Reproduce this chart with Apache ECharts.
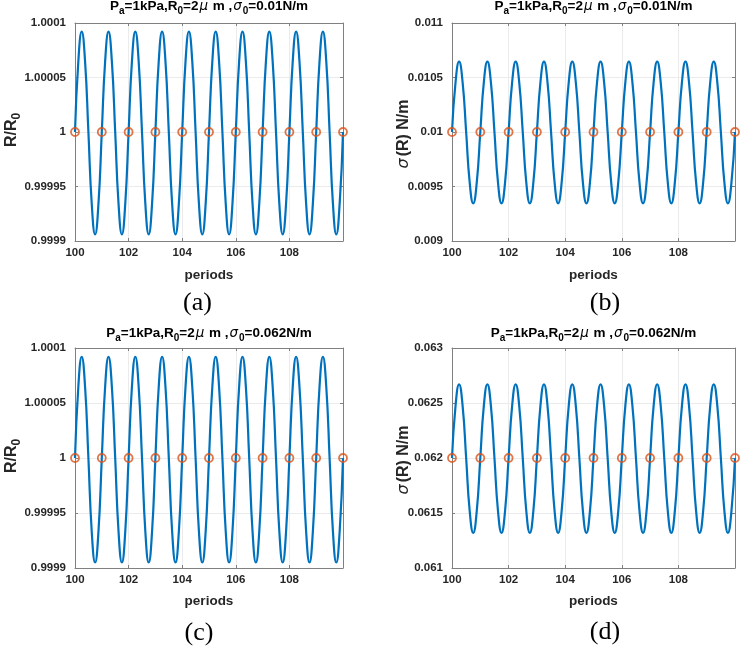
<!DOCTYPE html>
<html><head><meta charset="utf-8">
<script src="https://cdn.jsdelivr.net/npm/echarts@6/dist/echarts.min.js"></script>
<style>html,body{margin:0;padding:0;background:#fff}#c{width:740px;height:646px}</style>
</head><body><div id="c"></div>
<script>
// ---- data ----
const periods = [
100,100.125,100.25,100.375,100.5,100.625,100.75,100.875,
101,101.125,101.25,101.375,101.5,101.625,101.75,101.875,
102,102.125,102.25,102.375,102.5,102.625,102.75,102.875,
103,103.125,103.25,103.375,103.5,103.625,103.75,103.875,
104,104.125,104.25,104.375,104.5,104.625,104.75,104.875,
105,105.125,105.25,105.375,105.5,105.625,105.75,105.875,
106,106.125,106.25,106.375,106.5,106.625,106.75,106.875,
107,107.125,107.25,107.375,107.5,107.625,107.75,107.875,
108,108.125,108.25,108.375,108.5,108.625,108.75,108.875,
109,109.125,109.25,109.375,109.5,109.625,109.75,109.875,
110];
const radiusA = [
1,1.000065,1.000092,1.000065,1,0.999934,0.999906,0.999934,
1,1.000065,1.000092,1.000065,1,0.999934,0.999906,0.999934,
1,1.000065,1.000092,1.000065,1,0.999934,0.999906,0.999934,
1,1.000065,1.000092,1.000065,1,0.999934,0.999906,0.999934,
1,1.000065,1.000092,1.000065,1,0.999934,0.999906,0.999934,
1,1.000065,1.000092,1.000065,1,0.999934,0.999906,0.999934,
1,1.000065,1.000092,1.000065,1,0.999934,0.999906,0.999934,
1,1.000065,1.000092,1.000065,1,0.999934,0.999906,0.999934,
1,1.000065,1.000092,1.000065,1,0.999934,0.999906,0.999934,
1,1.000065,1.000092,1.000065,1,0.999934,0.999906,0.999934,
1];
const sigmaB = [
0.01,0.010456,0.010645,0.010456,0.01,0.009537,0.009345,0.009537,
0.01,0.010456,0.010645,0.010456,0.01,0.009537,0.009345,0.009537,
0.01,0.010456,0.010645,0.010456,0.01,0.009537,0.009345,0.009537,
0.01,0.010456,0.010645,0.010456,0.01,0.009537,0.009345,0.009537,
0.01,0.010456,0.010645,0.010456,0.01,0.009537,0.009345,0.009537,
0.01,0.010456,0.010645,0.010456,0.01,0.009537,0.009345,0.009537,
0.01,0.010456,0.010645,0.010456,0.01,0.009537,0.009345,0.009537,
0.01,0.010456,0.010645,0.010456,0.01,0.009537,0.009345,0.009537,
0.01,0.010456,0.010645,0.010456,0.01,0.009537,0.009345,0.009537,
0.01,0.010456,0.010645,0.010456,0.01,0.009537,0.009345,0.009537,
0.01];
const radiusC = [
1,1.000065,1.000092,1.000065,1,0.999933,0.999905,0.999933,
1,1.000065,1.000092,1.000065,1,0.999933,0.999905,0.999933,
1,1.000065,1.000092,1.000065,1,0.999933,0.999905,0.999933,
1,1.000065,1.000092,1.000065,1,0.999933,0.999905,0.999933,
1,1.000065,1.000092,1.000065,1,0.999933,0.999905,0.999933,
1,1.000065,1.000092,1.000065,1,0.999933,0.999905,0.999933,
1,1.000065,1.000092,1.000065,1,0.999933,0.999905,0.999933,
1,1.000065,1.000092,1.000065,1,0.999933,0.999905,0.999933,
1,1.000065,1.000092,1.000065,1,0.999933,0.999905,0.999933,
1,1.000065,1.000092,1.000065,1,0.999933,0.999905,0.999933,
1];
const sigmaD = [
0.062,0.062474,0.06267,0.062474,0.062,0.061519,0.06132,0.061519,
0.062,0.062474,0.06267,0.062474,0.062,0.061519,0.06132,0.061519,
0.062,0.062474,0.06267,0.062474,0.062,0.061519,0.06132,0.061519,
0.062,0.062474,0.06267,0.062474,0.062,0.061519,0.06132,0.061519,
0.062,0.062474,0.06267,0.062474,0.062,0.061519,0.06132,0.061519,
0.062,0.062474,0.06267,0.062474,0.062,0.061519,0.06132,0.061519,
0.062,0.062474,0.06267,0.062474,0.062,0.061519,0.06132,0.061519,
0.062,0.062474,0.06267,0.062474,0.062,0.061519,0.06132,0.061519,
0.062,0.062474,0.06267,0.062474,0.062,0.061519,0.06132,0.061519,
0.062,0.062474,0.06267,0.062474,0.062,0.061519,0.06132,0.061519,
0.062];
const markerPeriods = [100,101,102,103,104,105,106,107,108,109,110];
const markerRadius = [1,1,1,1,1,1,1,1,1,1,1];
const markerSigmaB = [0.01,0.01,0.01,0.01,0.01,0.01,0.01,0.01,0.01,0.01,0.01];
const markerSigmaD = [0.062,0.062,0.062,0.062,0.062,0.062,0.062,0.062,0.062,0.062,0.062];
const xTickLabels = ['100','102','104','106','108',''];
const yTicksR = ['0.9999','0.99995','1','1.00005','1.0001'];
const yTicksB = ['0.009','0.0095','0.01','0.0105','0.011'];
const yTicksD = ['0.061','0.0615','0.062','0.0625','0.063'];
const sigma0Labels = ['0.01','0.01','0.062','0.062'];
const captions = ['(a)','(b)','(c)','(d)'];

// ---- layout / style ----
const FONT = '"Liberation Sans", Arial, sans-serif';
const AX = '#808080';
const TXT = '#262626';
const grids = [
  {left:75, top:23, width:268, height:218},
  {left:452, top:23, width:283, height:218},
  {left:75, top:348, width:268, height:220},
  {left:452, top:348, width:283, height:220}
];
const panels = [
  {vals: radiusA, mk: markerRadius, ymin:0.9999, ymax:1.0001, yint:0.00005, ylab: yTicksR, ytype:'R'},
  {vals: sigmaB, mk: markerSigmaB, ymin:0.009, ymax:0.011, yint:0.0005, ylab: yTicksB, ytype:'S'},
  {vals: radiusC, mk: markerRadius, ymin:0.9999, ymax:1.0001, yint:0.00005, ylab: yTicksR, ytype:'R'},
  {vals: sigmaD, mk: markerSigmaD, ymin:0.061, ymax:0.063, yint:0.0005, ylab: yTicksD, ytype:'S'}
];

const xAxes = [], yAxes = [], series = [], graphics = [];
const tickLabelStyle = {fontSize:11.5, fontWeight:'bold', fontFamily:FONT, color:TXT};
panels.forEach((p, i) => {
  const common = {gridIndex:i, type:'value'};
  xAxes.push(Object.assign({}, common, {
    min:100, max:110, interval:2, position:'bottom',
    axisLine:{show:true, onZero:false, lineStyle:{color:AX, width:1}},
    axisTick:{show:true, inside:true, length:3, lineStyle:{color:AX}},
    axisLabel:Object.assign({margin:6, formatter:v => xTickLabels[Math.round((v-100)/2)]}, tickLabelStyle),
    splitLine:{show:true, lineStyle:{color:'#ebebeb', width:1}}
  }));
  xAxes.push(Object.assign({}, common, {
    min:100, max:110, interval:2, position:'top',
    axisLine:{show:true, onZero:false, lineStyle:{color:AX, width:1}},
    axisTick:{show:true, inside:true, length:3, lineStyle:{color:AX}},
    axisLabel:{show:false}, splitLine:{show:false}
  }));
  yAxes.push(Object.assign({}, common, {
    min:p.ymin, max:p.ymax, interval:p.yint, position:'left',
    axisLine:{show:true, onZero:false, lineStyle:{color:AX, width:1}},
    axisTick:{show:true, inside:true, length:3, lineStyle:{color:AX}},
    axisLabel:Object.assign({margin:9, formatter:v => p.ylab[Math.round((v-p.ymin)/p.yint)]}, tickLabelStyle),
    splitLine:{show:true, lineStyle:{color:'#ebebeb', width:1}}
  }));
  yAxes.push(Object.assign({}, common, {
    min:p.ymin, max:p.ymax, interval:p.yint, position:'right',
    axisLine:{show:true, onZero:false, lineStyle:{color:AX, width:1}},
    axisTick:{show:true, inside:true, length:3, lineStyle:{color:AX}},
    axisLabel:{show:false}, splitLine:{show:false}
  }));
  series.push({
    type:'line', xAxisIndex:2*i, yAxisIndex:2*i,
    data: periods.map((x, k) => [x, p.vals[k]]),
    showSymbol:false, smooth:true, lineStyle:{color:'#0072BD', width:2.2}, z:2
  });
  series.push({
    type:'scatter', xAxisIndex:2*i, yAxisIndex:2*i,
    data: markerPeriods.map((x, k) => [x, p.mk[k]]),
    symbol:'circle', symbolSize:8, clip:false,
    itemStyle:{color:'rgba(0,0,0,0)', borderColor:'#D95319', borderWidth:1.8}, z:3
  });

  const g = grids[i];
  const cx = g.left + g.width/2;
  // title
  const tY = (i < 2) ? -4.5 : 322.5;
  graphics.push({
    type:'text', x:cx, y:tY,
    style:{
      text:'{b|P}{s|a}{b|=1kPa,R}{s|0}{b|=2}{g|μ}{b| m ,}{g|σ}{s|0}{b|=' + sigma0Labels[i] + 'N/m}',
      align:'center', verticalAlign:'top', textAlign:'center', textVerticalAlign:'top',
      rich:{
        b:{font:'bold 13.5px ' + FONT, fill:'#000', lineHeight:21, verticalAlign:'middle'},
        s:{font:'bold 10px ' + FONT, fill:'#000', lineHeight:9, verticalAlign:'bottom'},
        g:{font:'italic 13.5px "DejaVu Sans"', fill:'#000', lineHeight:21, verticalAlign:'middle', padding:[0,1,0,1]}
      }
    }
  });
  // y label
  const yTxt = p.ytype === 'R' ? '{b|R/R}{s|0}' : '{g|σ}{b|(R) N/m}';
  const yLx = p.ytype === 'R' ? g.left - 63.5 : g.left - 48.5;
  graphics.push({
    type:'text', x:yLx, y:g.top + g.height/2 + (p.ytype === 'R' ? -2 : 2), rotation:Math.PI/2,
    style:{
      text:yTxt, align:'center', verticalAlign:'middle', textAlign:'center', textVerticalAlign:'middle',
      rich:{
        b:{font:'bold 16px ' + FONT, fill:TXT, lineHeight:22, verticalAlign:'middle'},
        s:{font:'bold 12px ' + FONT, fill:TXT, lineHeight:11, verticalAlign:'bottom'},
        g:{font:'italic 16px "DejaVu Sans"', fill:TXT, lineHeight:22, verticalAlign:'middle', padding:[0,2,0,0]}
      }
    }
  });
  // x label
  graphics.push({
    type:'text', x:cx, y:(i < 2) ? 275 : 601,
    style:{text:'periods', font:'bold 13.5px ' + FONT, fill:TXT,
      align:'center', verticalAlign:'middle', textAlign:'center', textVerticalAlign:'middle'}
  });
  // caption
  const capPos = [[197.5,303],[605,303],[199,633],[605,632]][i];
  graphics.push({
    type:'text', x:capPos[0], y:capPos[1],
    style:{text:captions[i], font:'26px "Liberation Serif", serif', fill:'#000',
      align:'center', verticalAlign:'middle', textAlign:'center', textVerticalAlign:'middle'}
  });
});

const chart = echarts.init(document.getElementById('c'), null, {renderer:'canvas'});
chart.setOption({
  animation:false,
  backgroundColor:'#fff',
  grid: grids,
  xAxis: xAxes,
  yAxis: yAxes,
  series: series,
  graphic: {elements: graphics}
});
</script>
</body></html>
